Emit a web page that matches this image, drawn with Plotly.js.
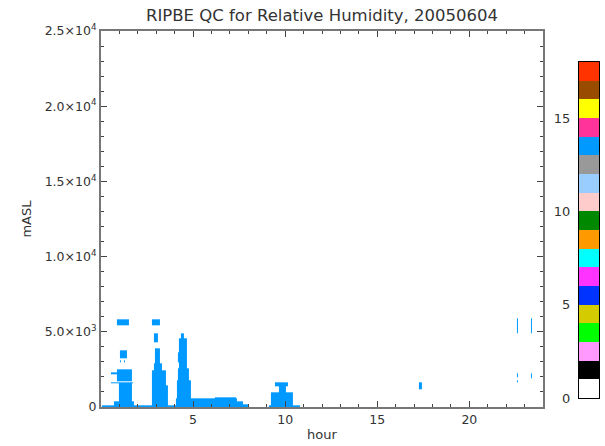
<!DOCTYPE html>
<html>
<head>
<meta charset="utf-8">
<script src="https://cdn.plot.ly/plotly-3.0.1.min.js"></script>
<style>html,body{margin:0;padding:0;background:#fff;}#chart{width:605px;height:446px;}</style>
</head>
<body>
<div id="chart"></div>
<script>
// QC flag legend
const flagValues = [0,1,2,3,4,5,6,7,8,9,10,11,12,13,14,15,16,17];
const flagColors = ['#ffffff','#000000','#ff99ff','#00ff00','#d4cc00','#0033ff','#ff33ff','#00ffff',
                    '#ff9900','#008800','#ffcccc','#99ccff','#999999','#0099ff','#ff3399','#ffff00',
                    '#994c00','#ff3300'];
const flagTicks = [0,5,10,15];

// axis ticks
const hourTicks = [5,10,15,20];
const heightTicks = [0,5000,10000,15000,20000,25000];
const heightTickText = ['0','5.0×10<sup>3</sup>','1.0×10<sup>4</sup>','1.5×10<sup>4</sup>','2.0×10<sup>4</sup>','2.5×10<sup>4</sup>'];

// QC flag patches (hour start/end, height bottom/top in m ASL, flag value)
const spanStart  = [0.05, 0.87,1.00,1.00,1.22,0.87,0.54,0.54,1.93,0.95,0.70, 2.77,2.90,2.93,2.88,2.77,2.77, 4.34,4.23,4.18,4.13,4.18,4.05, 5.05,6.20,7.40,7.70, 9.45,9.26,9.66,9.23,9.10, 17.25, 22.58,23.33,22.58,22.58,23.33];
const spanEnd    = [4.30, 1.52,1.40,1.08,1.30,1.68,0.87,1.74,1.98,1.68,1.80, 3.20,3.10,3.20,3.30,3.53,3.64, 4.50,4.67,4.78,4.89,4.22,5.05, 7.40,7.30,7.70,8.00, 10.15,9.31,10.04,10.42,10.80, 17.40, 22.64,23.39,22.64,22.64,23.39];
const spanBottom = [0, 5450,3250,2950,2950,1700,2200,1550,1550,0,0, 5450,4300,2900,2460,1460,0, 4600,2600,1800,600,3000,0, 0,600,0,0, 1400,1550,1000,100,0, 1200, 4900,4900,1950,1660,1930];
const spanTop    = [100, 5850,3800,3100,3100,2530,2300,1650,1600,1550,400, 5850,4900,3900,2900,2460,1460, 4900,4600,2600,1800,3650,600, 600,660,400,150, 1660,1600,1400,1000,100, 1660, 5900,5900,2260,1800,2260];
const spanFlag   = spanStart.map(() => 13);

// build heatmap grid from the patches
const xs = Array.from(new Set(spanStart.concat(spanEnd))).sort((a,b)=>a-b);
const ys = Array.from(new Set(spanBottom.concat(spanTop))).sort((a,b)=>a-b);
const z = [];
for (let j = 0; j < ys.length - 1; j++) {
  const row = [];
  const yc = (ys[j] + ys[j+1]) / 2;
  for (let i = 0; i < xs.length - 1; i++) {
    const xc = (xs[i] + xs[i+1]) / 2;
    let v = null;
    for (let k = 0; k < spanStart.length; k++) {
      if (xc >= spanStart[k] && xc <= spanEnd[k] && yc >= spanBottom[k] && yc <= spanTop[k]) { v = spanFlag[k]; break; }
    }
    row.push(v);
  }
  z.push(row);
}

const n = flagValues.length;
const colorscale = [];
flagColors.forEach((c, i) => { colorscale.push([i / n, c]); colorscale.push([(i + 1) / n, c]); });

const flagEdges = flagValues.concat([flagValues[n-1] + 1]);

const font = 'DejaVu Sans, Verdana, sans-serif';
const data = [
  {type:'heatmap', x: xs, y: ys, z: z, zmin: 0, zmax: n, colorscale: colorscale,
   showscale: false, hoverinfo: 'skip', xaxis: 'x', yaxis: 'y'},
  {type:'heatmap', x: [0, 1], y: flagEdges, z: flagValues.map(v => [v + 0.5]), zmin: 0, zmax: n,
   colorscale: colorscale, showscale: false, hoverinfo: 'skip', xaxis: 'x2', yaxis: 'y2'}
];

const axisCommon = {
  showgrid: false, zeroline: false, showline: true, linecolor: '#777', linewidth: 2,
  mirror: 'ticks', ticks: 'inside', tickcolor: '#444', tickwidth: 1,
  tickfont: {family: font, size: 12.5, color: '#333'}
};

const layout = {
  width: 605, height: 446,
  margin: {l: 101, r: 6, t: 31, b: 39},
  paper_bgcolor: '#fff', plot_bgcolor: '#fff',
  showlegend: false,
  font: {family: font, color: '#333'},
  title: {text: 'RIPBE QC for Relative Humidity, 20050604', font: {family: font, size: 16.5, color: '#333'},
          x: 0.4438, xref: 'paper', xanchor: 'center', y: 0.966, yref: 'container', yanchor: 'middle'},
  xaxis: Object.assign({}, axisCommon, {
    domain: [0, 0.8876], range: [0, 24], tickmode: 'array', tickvals: hourTicks, ticklen: 6,
    minor: {dtick: 1, tick0: 0, ticks: 'inside', ticklen: 3, tickcolor: '#444'},
    title: {text: 'hour', font: {family: font, size: 13, color: '#333'}, standoff: 4}
  }),
  yaxis: Object.assign({}, axisCommon, {
    range: [0, 25000], tickmode: 'array', tickvals: heightTicks, ticktext: heightTickText, ticklen: 6,
    minor: {dtick: 1000, tick0: 0, ticks: 'inside', ticklen: 3, tickcolor: '#444'},
    title: {text: 'mASL', font: {family: font, size: 13, color: '#333'}, standoff: 10}
  }),
  xaxis2: {domain: [0.9598, 1], range: [0, 1], anchor: 'y2', showgrid: false, zeroline: false,
           showticklabels: false, ticks: '', showline: true, mirror: true, linecolor: '#000', linewidth: 1, fixedrange: true},
  yaxis2: {domain: [0.0239, 0.9176], range: [0, n], anchor: 'x2', side: 'left', showgrid: false, zeroline: false,
           tickmode: 'array', tickvals: flagTicks, ticks: '', ticklabelstandoff: 5,
           tickfont: {family: font, size: 13, color: '#333'},
           showline: true, mirror: true, linecolor: '#000', linewidth: 1, fixedrange: true}
};

Plotly.newPlot('chart', data, layout, {staticPlot: true});
</script>
</body>
</html>
